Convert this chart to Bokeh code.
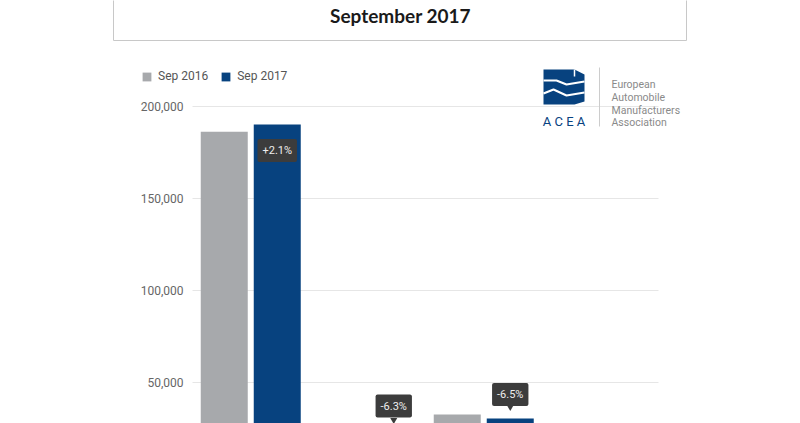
from bokeh.plotting import figure
from bokeh.models import (ColumnDataSource, Range1d, FixedTicker,
                          NumeralTickFormatter, Legend, LegendItem)
from bokeh.transform import dodge
from bokeh.core.properties import value
from bokeh.embed import file_html
from bokeh.resources import INLINE

# ---------------- data ----------------
categories = ["Light commercial vehicles", "Heavy commercial vehicles >16t",
              "Medium & heavy commercial vehicles", "Buses & coaches"]
sep_2016 = [186300, 24900, 32600, 3300]
sep_2017 = [190200, 23350, 30450, 3200]
label_texts = ["+2.1%", "-6.3%", "-6.5%"]
y_ticks = [0, 50000, 100000, 150000, 200000]
series_names = ["Sep 2016", "Sep 2017"]
title_text = "September 2017"
logo_lines = ["European", "Automobile", "Manufacturers", "Association"]

GRAY = "#a7a9ac"
BLUE = "#07427f"
W, H = 800, 423

# plot area in page pixels
PL, PR = 192, 658
unit = (PR - PL) / len(categories)          # pixels per category
px_per_val = 92 / 50000                     # pixels per unit of value
zero_px = 474                               # page y of the value 0

idx = list(range(len(categories)))
src = ColumnDataSource(dict(cat=categories, i=idx, v16=sep_2016, v17=sep_2017))

p = figure(width=W, height=H,
           x_range=Range1d(-0.5 - PL / unit, len(categories) - 0.5 + (W - PR) / unit),
           y_range=Range1d((zero_px - H) / px_per_val, zero_px / px_per_val),
           output_backend="svg", toolbar_location=None,
           min_border_left=0, min_border_right=0, min_border_top=0, min_border_bottom=0)
p.extra_x_ranges = {"px": Range1d(0, W)}
p.extra_y_ranges = {"py": Range1d(H, 0)}

p.xaxis.visible = False
p.outline_line_color = None
p.background_fill_color = "white"
p.border_fill_color = "white"
p.xgrid.visible = False
p.ygrid.visible = False

# gridlines across the category area only
p.segment(x0=-0.5, x1=len(categories) - 0.5, y0=y_ticks, y1=y_ticks,
          line_color="#e6e6e6", line_width=1)

ya = p.yaxis[0]
ya.fixed_location = -0.5
ya.ticker = FixedTicker(ticks=y_ticks)
ya.formatter = NumeralTickFormatter(format="0,0")
ya.axis_line_color = None
ya.major_tick_line_color = None
ya.minor_tick_line_color = None
ya.major_tick_in = 0
ya.major_tick_out = 0
ya.major_label_standoff = 9
ya.major_label_text_font = "Roboto"
ya.major_label_text_font_size = "12px"
ya.major_label_text_color = "#666666"

bw = 47 / unit
off = 26.5 / unit
r16 = p.vbar(x=dodge("i", -off), top="v16", bottom=0, width=bw,
             source=src, fill_color=GRAY, line_color=None)
r17 = p.vbar(x=dodge("i", off), top="v17", bottom=0, width=bw,
             source=src, fill_color=BLUE, line_color=None)

# data labels (dark tooltip-style boxes)
lab_src = ColumnDataSource(dict(i=idx[:3], y=sep_2017[:3], text=label_texts,
                                off=[26, -25.5, -24]))
p.text(x=dodge("i", off), y="y", text="text", y_offset="off",
       source=lab_src, text_align="center", text_baseline="middle",
       text_color="#eeeeee", text_font=value("Roboto"), text_font_size="11px",
       background_fill_color="#3c3c3c", padding=5, border_radius=2)
ptr_src = ColumnDataSource(dict(i=idx[1:3],
                                y=[v + 11.5 / px_per_val for v in sep_2017[1:3]]))
p.scatter(x=dodge("i", off), y="y", source=ptr_src, marker="inverted_triangle",
          size=7, fill_color="#3c3c3c", line_color=None)

# legend
legend = Legend(items=[LegendItem(label=series_names[0], renderers=[r16]),
                       LegendItem(label=series_names[1], renderers=[r17])],
                orientation="horizontal", location=(141, H - 83),
                border_line_color=None, background_fill_alpha=0, padding=0, margin=0,
                spacing=12, label_standoff=6, glyph_width=11, glyph_height=11,
                label_height=14, label_text_font="Roboto", label_text_font_size="12px",
                label_text_color="#555555")
p.add_layout(legend)

# title box
p.quad(left=113, right=686, top=-10, bottom=40, x_range_name="px", y_range_name="py",
       fill_alpha=0, line_color="#c8c8c8", line_width=1)
p.text(x=[400], y=[15], text=[title_text], x_range_name="px", y_range_name="py",
       text_align="center", text_baseline="middle", text_color="#1a1a1a",
       text_font=value("Lato"), text_font_style="bold", text_font_size="19px")

# ACEA logo (page-pixel coordinates via extra ranges)
p.patch([543, 574, 584, 584, 574, 543], [69, 69, 74, 101, 104, 104],
        x_range_name="px", y_range_name="py", fill_color=BLUE, line_color=None)
p.line([543, 556, 566, 584], [80, 80, 84, 81], x_range_name="px", y_range_name="py",
       line_color="white", line_width=2)
p.line([543, 553, 566, 584], [93, 89, 95, 92], x_range_name="px", y_range_name="py",
       line_color="white", line_width=2)
p.line([574, 574], [69, 76], x_range_name="px", y_range_name="py",
       line_color="white", line_width=1.5)
p.text(x=[563.5], y=[121], text=["A C E A"], x_range_name="px", y_range_name="py",
       text_align="center", text_baseline="middle", text_color=BLUE,
       text_font=value("Roboto"), text_font_size="13px")
p.line([599, 599], [67, 126], x_range_name="px", y_range_name="py",
       line_color="#cccccc", line_width=1)
p.text(x=[611] * 4, y=[84, 97, 110, 122], text=logo_lines, x_range_name="px",
       y_range_name="py", text_align="left", text_baseline="middle",
       text_color="#8a8a8a", text_font=value("Roboto"), text_font_size="10.5px")

open("out.html", "w").write(file_html(p, INLINE))
